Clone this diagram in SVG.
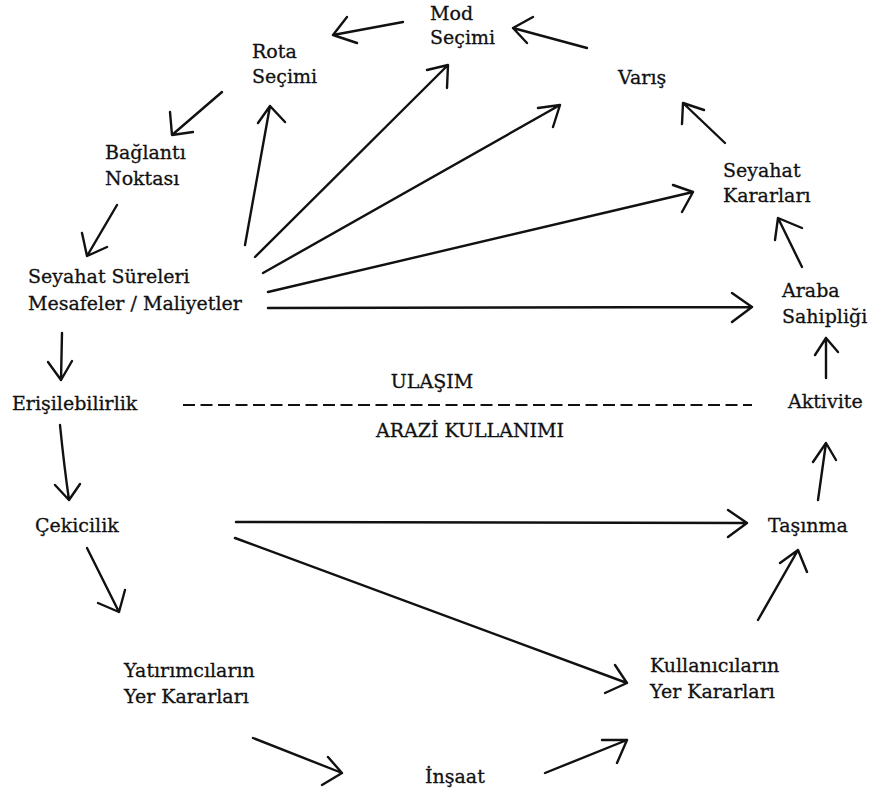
<svg xmlns="http://www.w3.org/2000/svg" width="869" height="793" viewBox="0 0 869 793">
  <style>
    .cn { fill: none; stroke: #111; stroke-width: 2.4; stroke-linecap: round; stroke-linejoin: round; }
    .dash { fill: none; stroke: #111; stroke-width: 2.2; stroke-dasharray: 12 5.5; }
  </style>
  <rect x="0" y="0" width="869" height="793" fill="#ffffff"/>

  <!-- nodes: shared text look set on the wrapper -->
  <g font-family="DejaVu Serif" font-size="19" fill="#111" stroke="#111" stroke-width="0.3">
  <g id="mod-secimi"><text x="430" y="20">Mod</text><text x="430" y="44">Seçimi</text></g>
  <g id="rota-secimi"><text x="252" y="58">Rota</text><text x="252" y="83">Seçimi</text></g>
  <g id="varis"><text x="618" y="84">Varış</text></g>
  <g id="baglanti-noktasi"><text x="105" y="159">Bağlantı</text><text x="105" y="185">Noktası</text></g>
  <g id="seyahat-sureleri"><text x="28" y="283">Seyahat Süreleri</text><text x="28" y="310">Mesafeler / Maliyetler</text></g>
  <g id="seyahat-kararlari"><text x="723" y="177">Seyahat</text><text x="723" y="202">Kararları</text></g>
  <g id="araba-sahipligi"><text x="782" y="297">Araba</text><text x="782" y="323">Sahipliği</text></g>
  <g id="erisilebilirlik"><text x="12" y="410">Erişilebilirlik</text></g>
  <g id="aktivite"><text x="788" y="408">Aktivite</text></g>
  <g id="cekicilik"><text x="35" y="532">Çekicilik</text></g>
  <g id="tasinma"><text x="768" y="532">Taşınma</text></g>
  <g id="yatirimcilarin"><text x="124" y="677">Yatırımcıların</text><text x="124" y="703">Yer Kararları</text></g>
  <g id="kullanicilarin"><text x="650" y="672">Kullanıcıların</text><text x="650" y="698">Yer Kararları</text></g>
  <g id="insaat"><text x="425" y="783">İnşaat</text></g>

  <!-- transport / land-use divide -->
  <g id="divide">
    <text x="432" y="388" text-anchor="middle">ULAŞIM</text>
    <line class="dash" x1="183" y1="405" x2="752" y2="405"/>
    <text x="470" y="437" text-anchor="middle">ARAZİ KULLANIMI</text>
  </g>
  </g>

  <!-- connectors -->
  <g id="connectors">
    <!-- outer cycle -->
    <path class="cn" d="M403 22 L333 35 M347 17 L333 35 L357 43"/>
    <path class="cn" d="M587 48 L513 28 M533 17 L513 28 L527 43"/>
    <path class="cn" d="M725 143 L683 103 M682 124 L683 103 L704 110"/>
    <path class="cn" d="M802 267 L778 218 M775 240 L778 218 L802 228"/>
    <path class="cn" d="M826 378 L826 338 M815 355 L826 338 L838 352"/>
    <path class="cn" d="M818 500 L826 443 M813 462 L826 443 L836 460"/>
    <path class="cn" d="M758 620 L798 550 M780 563 L798 550 L807 572"/>
    <path class="cn" d="M545 773 L627 740 M602 740 L627 740 L617 763"/>
    <path class="cn" d="M253 738 L342 773 M328 757 L342 773 L322 785"/>
    <path class="cn" d="M87 548 L119 612 M98 603 L119 612 L125 590"/>
    <path class="cn" d="M60 425 Q64 465 69 500 M55 485 L69 500 L80 484"/>
    <path class="cn" d="M62 333 L61 380 M48 362 L61 380 L72 361"/>
    <path class="cn" d="M117 205 L87 256 M82 233 L87 256 L107 247"/>
    <path class="cn" d="M222 92 L172 135 M170 112 L172 135 L193 132"/>
    <!-- fan from travel times -->
    <path class="cn" d="M245 245 L270 106 M258 123 L270 106 L285 122"/>
    <path class="cn" d="M255 257 L448 65 M427 70 L448 65 L447 88"/>
    <path class="cn" d="M263 273 L560 105 M538 108 L560 105 L553 127"/>
    <path class="cn" d="M268 292 L693 192 M673 185 L693 192 L682 212"/>
    <path class="cn" d="M268 308 L752 307 M732 293 L752 307 L732 322"/>
    <!-- fan from attractiveness -->
    <path class="cn" d="M236 522 L747 523 M728 510 L747 523 L728 537"/>
    <path class="cn" d="M235 538 L627 683 M615 665 L627 683 L605 693"/>
  </g>
</svg>
